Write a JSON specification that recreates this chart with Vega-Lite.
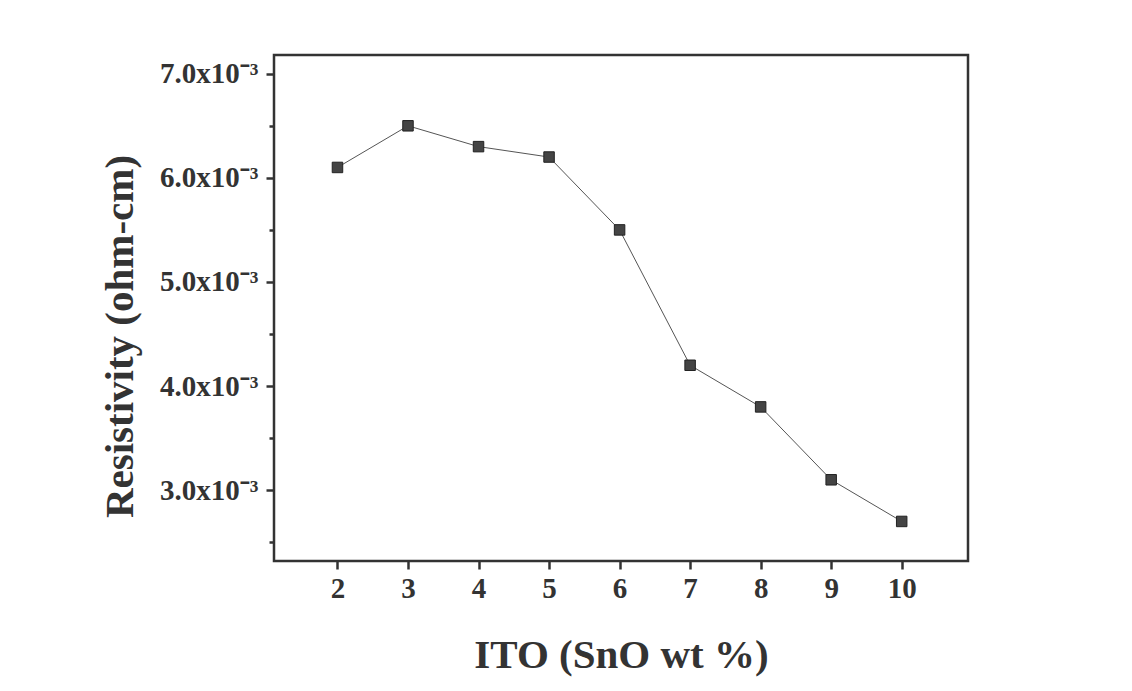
{
  "$schema": "https://vega.github.io/schema/vega-lite/v6.json",
  "width": 694,
  "height": 506,
  "autosize": "none",
  "padding": {"left": 274, "top": 55, "right": 164, "bottom": 130},
  "background": "white",
  "config": {
    "view": {"stroke": "#333333", "strokeWidth": 2.5},
    "font": "Liberation Serif"
  },
  "data": {
    "values": [
      {"sno": 2, "resistivity": 0.0061},
      {"sno": 3, "resistivity": 0.0065},
      {"sno": 4, "resistivity": 0.0063},
      {"sno": 5, "resistivity": 0.0062},
      {"sno": 6, "resistivity": 0.0055},
      {"sno": 7, "resistivity": 0.0042},
      {"sno": 8, "resistivity": 0.0038},
      {"sno": 9, "resistivity": 0.0031},
      {"sno": 10, "resistivity": 0.0027}
    ]
  },
  "encoding": {
    "x": {
      "field": "sno",
      "type": "quantitative",
      "scale": {"domain": [1.1, 10.94], "nice": false, "zero": false},
      "axis": {
        "title": "ITO (SnO wt %)",
        "values": [2, 3, 4, 5, 6, 7, 8, 9, 10],
        "grid": false,
        "domain": false,
        "tickColor": "#333333",
        "tickWidth": 2.5,
        "tickSize": 8,
        "labelFont": "Liberation Serif",
        "labelFontWeight": "bold",
        "labelFontSize": 29,
        "labelColor": "#333333",
        "labelPadding": 5,
        "titleFont": "Liberation Serif",
        "titleFontWeight": "bold",
        "titleFontSize": 41,
        "titleColor": "#333333",
        "titleBaseline": "middle",
        "titleX": 347,
        "titleY": 94
      }
    },
    "y": {
      "field": "resistivity",
      "type": "quantitative",
      "scale": {"domain": [0.00232, 0.00718], "nice": false, "zero": false},
      "axis": {
        "title": "Resistivity (ohm-cm)",
        "values": [0.0025, 0.003, 0.0035, 0.004, 0.0045, 0.005, 0.0055, 0.006, 0.0065, 0.007],
        "labelExpr": "abs(datum.value*1000 - round(datum.value*1000)) < 0.01 ? format(datum.value*1000, '.1f') + 'x10⁻³' : ''",
        "tickSize": {"expr": "abs(datum.value*1000 - round(datum.value*1000)) < 0.01 ? 8 : 5"},
        "grid": false,
        "domain": false,
        "tickColor": "#333333",
        "tickWidth": 2.5,
        "labelFont": "Liberation Serif",
        "labelFontWeight": "bold",
        "labelFontSize": 29,
        "labelColor": "#333333",
        "labelPadding": 8,
        "titleFont": "Liberation Serif",
        "titleFontWeight": "bold",
        "titleFontSize": 41,
        "titleColor": "#333333",
        "titleBaseline": "middle",
        "titleAngle": -90,
        "titleX": -154,
        "titleY": 281
      }
    }
  },
  "layer": [
    {
      "mark": {"type": "line", "color": "#555555", "strokeWidth": 1}
    },
    {
      "mark": {"type": "square", "size": 110, "filled": true, "color": "#444444", "stroke": "#222222", "strokeWidth": 1, "opacity": 1}
    }
  ]
}
